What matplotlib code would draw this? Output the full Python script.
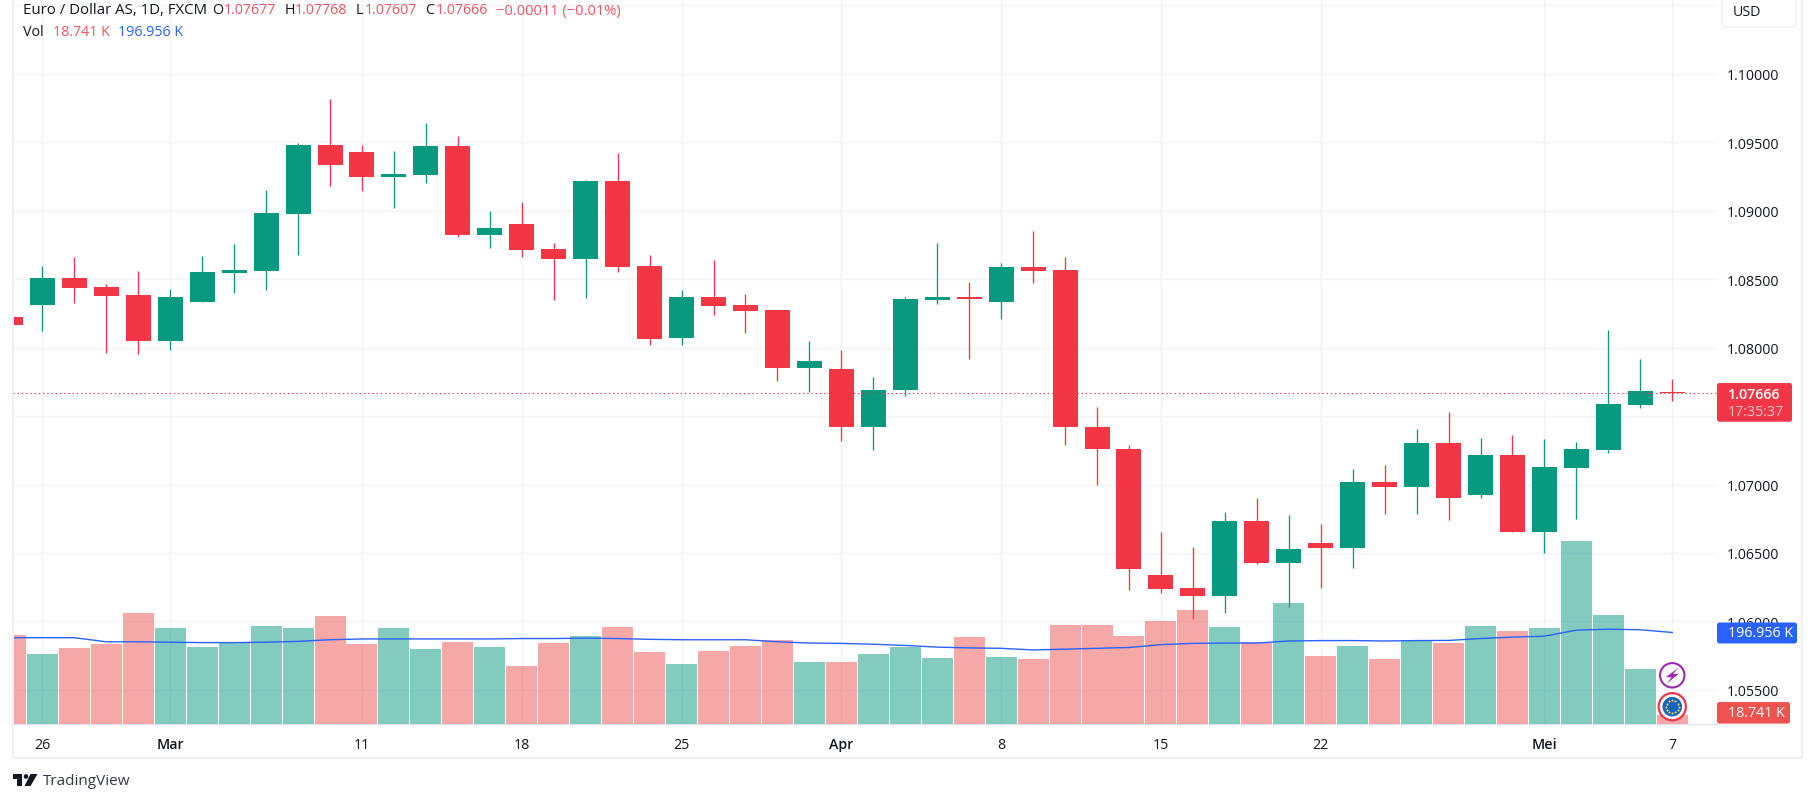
import matplotlib
matplotlib.use("Agg")
import matplotlib.pyplot as plt
from matplotlib.patches import FancyBboxPatch, Circle, Polygon
import numpy as np

plt.rcParams['font.family'] = ['Open Sans', 'DejaVu Sans']

opens = [1.08226,1.08313,1.08509,1.08444,1.08387,1.08045,1.08336,1.08548,1.08563,1.08976,1.09479,1.09429,
         1.09247,1.09262,1.09473,1.08825,1.08905,1.08720,1.08649,1.09217,1.08598,1.08072,1.08372,1.08313,
         1.08277,1.07854,1.07845,1.07423,1.07688,1.08351,1.08372,1.08336,1.08589,1.08569,1.07423,1.07262,
         1.06337,1.06241,1.06185,1.06732,1.06426,1.06572,1.06533,1.07015,1.06979,1.07301,1.06920,1.07214,
         1.06652,1.07119,1.07251,1.07579,1.07677]
highs = [1.08226,1.08598,1.08664,1.08467,1.08563,1.08429,1.08670,1.08759,1.09152,1.09494,1.09816,1.09479,
         1.09438,1.09640,1.09545,1.09000,1.09066,1.08765,1.09226,1.09423,1.08679,1.08423,1.08643,1.08393,
         1.08277,1.08051,1.07985,1.07789,1.08372,1.08765,1.08482,1.08619,1.08854,1.08664,1.07563,1.07292,
         1.06652,1.06542,1.06798,1.06899,1.06774,1.06709,1.07116,1.07146,1.07408,1.07533,1.07337,1.07360,
         1.07331,1.07309,1.08127,1.07915,1.07768]
lows = [1.08167,1.08125,1.08328,1.07964,1.07956,1.07979,1.08336,1.08402,1.08423,1.08679,1.09182,1.09146,
        1.09021,1.09202,1.08810,1.08729,1.08664,1.08351,1.08363,1.08554,1.08021,1.08021,1.08241,1.08110,
        1.07753,1.07679,1.07316,1.07250,1.07643,1.08322,1.07914,1.08211,1.08473,1.07286,1.06994,1.06229,
        1.06206,1.06018,1.06060,1.06417,1.06104,1.06241,1.06387,1.06783,1.06783,1.06738,1.06905,1.06652,
        1.06499,1.06747,1.07229,1.07557,1.07607]
closes = [1.08167,1.08509,1.08438,1.08378,1.08045,1.08372,1.08554,1.08569,1.08985,1.09479,1.09333,1.09247,
          1.09268,1.09473,1.08825,1.08875,1.08714,1.08649,1.09217,1.08589,1.08060,1.08372,1.08307,1.08271,
          1.07854,1.07899,1.07423,1.07694,1.08357,1.08372,1.08357,1.08589,1.08563,1.07417,1.07256,1.06381,
          1.06235,1.06185,1.06732,1.06426,1.06527,1.06533,1.07015,1.06979,1.07301,1.06905,1.07212,1.06652,
          1.07127,1.07258,1.07586,1.07681,1.07666]
volumes = [191.9,150.5,163.7,172.5,239.4,206.8,165.4,174.2,211.2,206.8,232.3,172.5,206.8,161.0,176.9,165.4,125.0,
           174.2,189.2,208.6,154.9,129.4,157.5,168.1,181.3,133.8,133.8,150.5,165.4,141.7,187.4,144.3,139.9,213.0,
           213.0,189.2,221.8,245.5,208.6,176.9,260.5,146.7,168.2,140.2,178.6,174.5,211.3,200.6,207.0,394.7,235.1,
           118.6,18.741]
vol_ma = [185.7,185.7,185.7,176.9,176.9,176.0,175.1,175.1,176.0,177.8,181.3,183.0,183.0,183.0,183.0,183.0,183.9,
          183.9,184.8,183.9,182.2,181.3,181.3,181.3,176.9,174.2,173.4,171.6,169.0,165.4,163.7,162.8,159.3,161.0,
          162.8,164.6,170.7,173.4,174.2,174.2,178.6,179.5,179.5,178.6,179.5,179.8,184.0,187.0,189.0,202.0,204.2,
          202.8,196.956]

price_ticks = [1.055,1.06,1.065,1.07,1.075,1.08,1.085,1.09,1.095,1.10,1.105]
price_labels = ['1.05500','1.06000','1.06500','1.07000','','1.08000','1.08500','1.09000','1.09500','1.10000','']
date_idx = [1,5,11,16,21,26,31,36,41,48,52]
date_labels = ['26','Mar','11','18','25','Apr','8','15','22','Mei','7']
bold_dates = {'Mar','Apr','Mei'}
last_price = 1.07666
last_vol = 18.741
last_ma = 196.956

W, H = 1815, 803
GREEN, RED = '#089981', '#f23645'
VGREEN, VRED = '#089981', '#ef5350'
GRID = '#f0f3fa'
TXT = '#131722'

fig = plt.figure(figsize=(W/100, H/100), dpi=100, facecolor='white')
L, R, B, T = 13.4, 1717.0, 724.8, 0.5
rect = [L/W, 1-B/H, (R-L)/W, (B-T)/H]
xlim = (0.0926, 53.4)
ylim = (1.05252, 1.10543)
vol_top = 724.3*2.157

x = np.arange(len(opens))
up = np.array(closes) >= np.array(opens)

# base: grid + tick labels
axB = fig.add_axes(rect, zorder=1)
axB.set_xlim(xlim); axB.set_ylim(ylim)
axB.yaxis.tick_right()
axB.set_yticks(price_ticks, price_labels)
axB.set_xticks(date_idx, date_labels)
axB.grid(True, color=GRID, lw=1.0)
axB.set_axisbelow(True)
axB.tick_params(axis='y', length=0, pad=7.2, labelsize=10.3, labelcolor=TXT)
axB.tick_params(axis='x', length=0, pad=9.2, labelsize=10.3, labelcolor=TXT)
for tl in axB.get_xticklabels():
    if tl.get_text() in bold_dates:
        tl.set_fontweight('semibold')
for s in axB.spines.values():
    s.set_visible(False)
axB.spines['bottom'].set_visible(True)
axB.spines['bottom'].set_color('#e0e3eb')
axB.spines['bottom'].set_linewidth(1.0)

# volume
axV = fig.add_axes(rect, zorder=2)
axV.patch.set_alpha(0)
axV.bar(x, volumes, width=0.97, color=[VGREEN if u else VRED for u in up], alpha=0.5, linewidth=0)
axV.plot(x, vol_ma, color='#2962ff', lw=1.0)
axV.set_xlim(xlim); axV.set_ylim(0, vol_top)
axV.set_xticks([]); axV.set_yticks([])
axV.axis('off')

# candles
axC = fig.add_axes(rect, zorder=3)
axC.patch.set_alpha(0)
colors = [GREEN if u else RED for u in up]
axC.vlines(x, lows, highs, colors=colors, lw=0.95)
axC.bar(x, np.abs(np.array(closes)-np.array(opens)), bottom=np.minimum(opens, closes),
        width=0.782, color=colors, linewidth=0)
axC.axhline(last_price, color=RED, lw=0.8, ls=(0, (1.2, 2.6)))
axC.set_xlim(xlim); axC.set_ylim(ylim)
axC.set_xticks([]); axC.set_yticks([])
axC.axis('off')

# overlay in pixels
ov = fig.add_axes([0, 0, 1, 1], zorder=5)
ov.patch.set_alpha(0)
ov.set_xlim(0, W); ov.set_ylim(H, 0)
ov.set_xticks([]); ov.set_yticks([])
ov.axis('off')

def py(p):
    return H - axB.transData.transform((0, p))[1]
def vy(v):
    return H - axV.transData.transform((0, v))[1]

BORDER = '#eff0f5'
ov.plot([13.2, 13.2], [0, 759], color=BORDER, lw=1.4, solid_capstyle='butt')
ov.plot([13, 1802], [759, 759], color=BORDER, lw=1.6, solid_capstyle='butt')
ov.plot([1802, 1802], [0, 760], color=BORDER, lw=1.6, solid_capstyle='butt')

def box(x0, x1, y0, y1, fc, ec='none', lw=0, r=2.5):
    ov.add_patch(FancyBboxPatch((x0+r, y0+r), x1-x0-2*r, y1-y0-2*r, boxstyle=f'round,pad={r},rounding_size={r}',
                                fc=fc, ec=ec, lw=lw))

# header
fs = 10.3
def t(xp, yp, s, c=TXT, **k):
    ov.text(xp, yp, s, color=c, fontsize=k.pop('fontsize', fs), va='center', ha=k.pop('ha', 'left'), **k)
VALC = '#f7525f'
t(23, 11, 'Euro / Dollar AS, 1D, FXCM', fontsize=10.85)
for xa, lab, xb, val in [(212.5,'O',223.5,'1.07677'),(284.4,'H',295,'1.07768'),(356,'L',365,'1.07607'),(425.4,'C',436,'1.07666')]:
    t(xa, 11, lab); t(xb, 11, val, VALC)
t(496.4, 11, '\u22120.00011 (\u22120.01%)', VALC, fontsize=10.5)
t(23, 32, 'Vol')
t(52.7, 32, '18.741 K', VALC)
t(118.3, 32, '196.956 K', '#2962ff')

# USD button
box(1722, 1796, -6, 28, 'white', '#eff0f5', 1.0, r=4)
t(1733, 12, 'USD')

# last price labels
yl = py(last_price)
box(1717, 1792, yl-10.3, yl+28.4, RED)
t(1727.7, yl+0.4, '1.07666', 'white', fontweight='semibold')
t(1727.7, yl+18.4, '17:35:37', '#fbc5c9')
ym = vy(last_ma)
box(1717, 1797, ym-10, ym+11, '#2962ff')
t(1727.7, ym+0.5, '196.956 K', 'white')
box(1717, 1790, 703, 724.6, '#ef5350')
t(1727.7, 713.5, '18.741 K', 'white')

# icons
cx = axB.transData.transform((date_idx[-1], 0))[0]
ov.add_patch(Circle((cx, 676.3), 12.2, fc='white', ec='#9c27b0', lw=1.5))
ov.add_patch(Polygon([(cx+6.5,668.5),(cx-6.5,678.2),(cx-0.6,678.2),(cx-5.5,684.5),(cx+6.5,674.8),(cx+0.8,674.8)], fc='#9c27b0', ec='none'))
ov.add_patch(Circle((cx, 707.7), 13.6, fc='white', ec=RED, lw=1.6))
ov.add_patch(Circle((cx, 707.7), 9.8, fc='#1565c0', ec='none'))
ang = np.arange(12)*np.pi/6
ov.scatter(cx+6.4*np.cos(ang), 707.7+6.4*np.sin(ang), s=2.2, c='#f2d64b', linewidths=0)

# TradingView logo
ov.add_patch(Polygon([(13,775),(22.5,775),(22.5,787),(17.5,787),(17.5,779.5),(13,779.5)], fc=TXT, ec='none'))
ov.add_patch(Circle((26,777.5), 2.3, fc=TXT, ec='none'))
ov.add_patch(Polygon([(30.5,775),(37.5,775),(30.5,787),(24.5,787)], fc=TXT, ec='none'))
t(42.4, 781.5, 'TradingView', '#363a45', fontsize=11)

fig.savefig('out.png', dpi=100, facecolor='white')
